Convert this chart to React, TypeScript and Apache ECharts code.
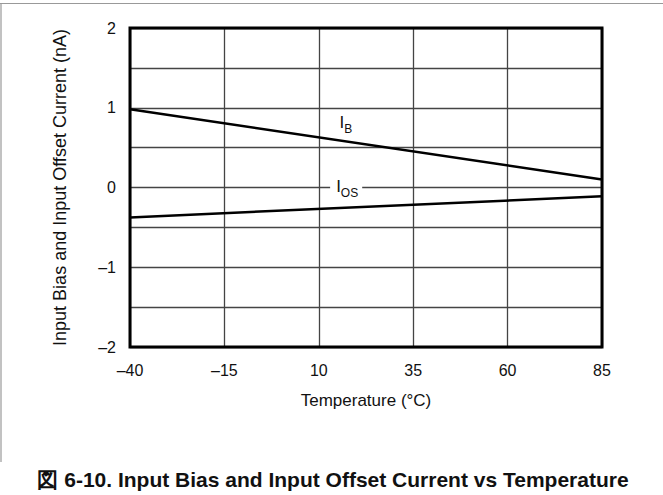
import React, { useEffect, useRef } from "react";
import * as echarts from "echarts";

const temps = [-40, 85];
const ibValues = [0.98, 0.1];
const iosValues = [-0.375, -0.11];
const xTicks = [-40, -15, 10, 35, 60, 85];
const yTicks = [-2, -1, 0, 1, 2];
const title = "図 6-10. Input Bias and Input Offset Current vs Temperature";
const xName = "Temperature (°C)";
const yName = "Input Bias and Input Offset Current (nA)";

const fmt = (v: number) => (v < 0 ? "\u2013" + Math.abs(v) : String(v));

export default function App() {
  const ref = useRef<HTMLDivElement>(null);
  useEffect(() => {
    if (!ref.current) return;
    const chart = echarts.init(ref.current, null, { renderer: "svg" });
    const font = "'Liberation Sans', Arial, sans-serif";
    const subRich = {
      i: { fontSize: 17, lineHeight: 20, verticalAlign: "top", color: "#111", fontFamily: font },
      s: { fontSize: 12, lineHeight: 20, verticalAlign: "top", padding: [9, 0, 0, 0], color: "#111", fontFamily: font },
    };
    chart.setOption({
      animation: false,
      backgroundColor: "#fff",
      textStyle: { fontFamily: font },
      grid: {
        left: 130,
        right: 61,
        top: 28,
        bottom: 148,
        show: true,
        borderColor: "#000",
        borderWidth: 3,
        backgroundColor: "transparent",
        z: 10,
      },
      xAxis: {
        type: "value",
        min: xTicks[0],
        max: xTicks[xTicks.length - 1],
        interval: 25,
        axisLine: { show: false },
        axisTick: { show: false },
        splitLine: { show: true, lineStyle: { color: "#444", width: 1.3 } },
        axisLabel: {
          formatter: (v: number) => (xTicks.includes(v) ? fmt(v) : ""),
          fontSize: 16,
          color: "#111",
          margin: 15,
        },
        name: xName,
        nameLocation: "middle",
        nameGap: 45,
        nameTextStyle: { fontSize: 17, color: "#111" },
      },
      yAxis: {
        type: "value",
        min: -2,
        max: 2,
        interval: 0.5,
        axisLine: { show: false },
        axisTick: { show: false },
        splitLine: { show: true, lineStyle: { color: "#444", width: 1.3 } },
        axisLabel: {
          formatter: (v: number) => (yTicks.includes(v) ? fmt(v) : ""),
          fontSize: 16,
          color: "#111",
          margin: 14,
        },
        name: yName,
        nameLocation: "middle",
        nameGap: 61,
        nameTextStyle: { fontSize: 18, color: "#111" },
      },
      series: [
        {
          type: "line",
          name: "IB",
          data: temps.map((t, i) => [t, ibValues[i]]),
          symbol: "none",
          lineStyle: { color: "#000", width: 2.5 },
          z: 5,
          markPoint: {
            symbol: "circle",
            symbolSize: 0,
            data: [
              {
                coord: [15.5, 0.79],
                label: {
                  show: true,
                  position: "right",
                  distance: 0,
                  formatter: "{i|I}{s|B}",
                  rich: subRich,
                },
              },
            ],
          },
        },
        {
          type: "line",
          name: "IOS",
          data: temps.map((t, i) => [t, iosValues[i]]),
          symbol: "none",
          lineStyle: { color: "#000", width: 2.5 },
          z: 5,
          markPoint: {
            symbol: "circle",
            symbolSize: 0,
            data: [
              {
                coord: [13, 0.0],
                label: {
                  show: true,
                  position: "right",
                  distance: 0,
                  formatter: "{i|I}{s|OS}",
                  backgroundColor: "#fff",
                  padding: [0, 4, 0, 6],
                  rich: subRich,
                },
              },
            ],
          },
        },
      ],
      graphic: [
        {
          type: "line",
          shape: { x1: 0, y1: 3.5, x2: 663, y2: 3.5 },
          style: { stroke: "#999", lineWidth: 1.2 },
        },
        {
          type: "line",
          shape: { x1: 1, y1: 3, x2: 1, y2: 462 },
          style: { stroke: "#999", lineWidth: 1.2 },
        },
        {
          type: "text",
          x: 333,
          y: 479,
          style: {
            text: title,
            fontSize: 21,
            fontWeight: "bold",
            fontFamily: font,
            fill: "#111",
            align: "center",
            verticalAlign: "middle",
          },
        },
      ],
    });
    return () => chart.dispose();
  }, []);
  return (
    <div
      ref={ref}
      style={{ position: "absolute", left: 0, top: 0, width: 663, height: 495 }}
    />
  );
}
